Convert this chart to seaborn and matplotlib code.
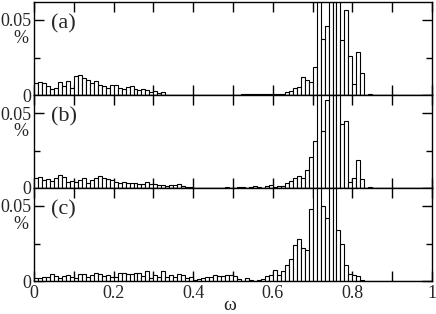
import numpy as np
import pandas as pd
import matplotlib
matplotlib.use("Agg")
import matplotlib.pyplot as plt
import seaborn as sns

# histogram heights, in units of 0.001, one per bin of width 0.01 on [0, 1)
panel_a = ([8, 8.7, 7.8, 6, 4.2, 5, 9, 6, 9.5, 5, 12.5, 13.5, 11.5, 10, 8, 9.5, 6.5,
            6, 5, 7, 7, 5, 4, 5.5, 6, 4, 3.5, 4, 3.5, 2, 2.5, 1.5, 2]
           + [0] * 17
           + [0, 0, 1, 0.5, 1, 0.5, 0.5, 0.5, 0.5, 1, 0.7, 1, 0.7, 1.8, 2.7, 4.4, 5.3,
              12, 9.8, 8.9, 18.7, 70, 37.5, 46, 75, 80, 72, 36.4, 56.7, 26, 7.5, 29,
              15, 0, 0.5]
           + [0] * 15)

panel_b = ([6.4, 7.1, 5.1, 5.8, 4.7, 6.5, 9.0, 7.3, 4.2, 4.7, 3.8, 5.1, 6.4, 3.6, 5.5,
            6.4, 8.0, 6.4, 5.8, 5.1, 4.2, 3.3, 3.8, 3.6, 3.3, 3.3, 2.4, 2.9, 4.2, 2.4,
            2.4, 2.0, 2.0, 1.6, 1.8, 2.0, 2.4, 1.3, 0.9, 0.5]
           + [0] * 8
           + [0.5, 0, 0, 0.7, 0.7, 0, 1, 1.3, 0.7, 0, 1.3, 1.8, 0.9, 1.5, 1.5]
           + [3.6, 4.4, 6.7, 8.2, 6.7, 12, 20.9, 31.6, 72, 38.2, 58.7, 80, 85, 75,
              42.7, 44.9, 4, 6.5, 19, 6, 0, 0.5]
           + [0] * 15)

panel_c = ([2, 2, 2.4, 2.9, 4.7, 3.3, 1.8, 3.3, 4, 2.9, 1.8, 4.7, 4.7, 2.4, 3.8, 5.6,
            4.7, 3.3, 3.8, 2.9, 2.4, 5.6, 5.1, 4.7, 4.7, 5.1, 5.1, 3.3, 6.9, 1.8, 3.8,
            2.9, 6.9, 2.4, 3.8, 2.9, 4.7, 3.8, 2, 2.4, 0.7, 1.1, 1.8, 2.9, 2.9, 4.2, 3.3]
           + [3.3, 4, 4, 3.3, 1.5, 0.3, 1.8, 0.9, 0, 0.9, 1.3, 3.1, 3.8, 7.1, 3.8, 6.7,
              10.4, 14.9, 24, 28, 22, 21, 48, 70, 72, 50, 42, 68, 65, 34, 24.4, 11,
              4.9, 3.8, 3.5, 0.5, 0.3, 0.3]
           + [0] * 15)

panel_labels = ['(a)', '(b)', '(c)']
xtick_labels = ['0', '0.2', '0.4', '0.6', '0.8', '1']
ytick_labels = ['0', '0.05']

n_bins = 100
centers = (np.arange(n_bins) + 0.5) / n_bins

sns.set_theme(style='ticks')
plt.rcParams['font.family'] = ['Liberation Serif', 'DejaVu Serif']

fig = plt.figure(figsize=(4.36, 3.14), dpi=100)
left, right = 34 / 436, 432 / 436
bottom, top = 1 - 281 / 314, 1 - 2 / 314
h = (top - bottom) / 3

for i, (vals, lab) in enumerate(zip([panel_a, panel_b, panel_c], panel_labels)):
    ax = fig.add_axes([left, top - (i + 1) * h, right - left, h])
    df = pd.DataFrame({'omega': centers, 'w': np.array(vals) / 1000.0})
    sns.histplot(data=df, x='omega', weights='w', bins=n_bins, binrange=(0, 1),
                 ax=ax, color='white', edgecolor='black', linewidth=0.8, alpha=1)
    ax.set_xlim(0, 1)
    ax.set_ylim(0, 0.062)
    ax.set_xticks([0, 0.2, 0.4, 0.6, 0.8, 1.0])
    ax.set_xticks([0.1, 0.3, 0.5, 0.7, 0.9], minor=True)
    ax.set_yticks([0, 0.05])
    ax.set_yticks([0.025], minor=True)
    ax.set_yticklabels(ytick_labels, fontsize=13)
    ax.tick_params(which='both', direction='in', top=True, right=True,
                   color='black', width=1)
    ax.tick_params(axis='x', which='both', length=7, pad=3)
    ax.tick_params(axis='y', which='major', length=7, pad=2)
    ax.tick_params(axis='y', which='minor', length=4)
    for s in ax.spines.values():
        s.set_linewidth(1.0)
        s.set_color('black')
    ax.set_ylabel('%', rotation=0, fontsize=13, va='center', ha='center')
    ax.yaxis.set_label_coords(-0.033, 0.61)
    ax.text(0.043, 0.77, lab, transform=ax.transAxes, fontsize=16,
            ha='left', va='center')
    ax.set_xlabel('')
    if i < 2:
        ax.set_xticklabels([])
    else:
        ax.set_xticklabels(xtick_labels, fontsize=13)

fig.text(230 / 436, 1 - 306 / 314, 'ω', fontsize=14, ha='center', va='center')

fig.savefig('out.png', dpi=100)
